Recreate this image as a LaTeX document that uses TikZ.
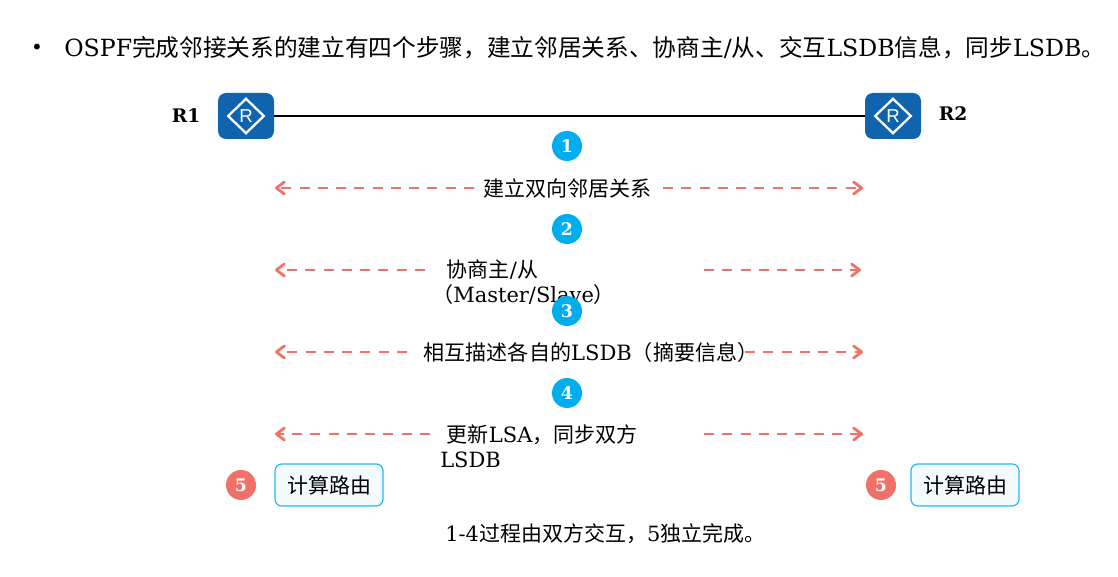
\documentclass[tikz,border=0pt]{standalone}
\usepackage{fontspec}
\usepackage{xcolor}
\usetikzlibrary{arrows.meta,shapes.geometric}
\setmainfont{DejaVu Serif}
\setsansfont{Liberation Sans}
\newfontfamily\cjk{Noto Sans CJK SC}
\definecolor{routerblue}{HTML}{1064AE}
\definecolor{badgeblue}{HTML}{00AEEF}
\definecolor{salmon}{HTML}{F07167}
\definecolor{boxline}{HTML}{29B6F0}
\definecolor{boxfill}{HTML}{F4FBFF}
\tikzset{
    router/.style={fill=routerblue, rounded corners=6pt, minimum width=42pt, minimum height=34.5pt, inner sep=0pt},
    routermark/.style={diamond, draw=white, line width=1.7pt, minimum width=27.5pt, minimum height=26.5pt, inner sep=0pt, text=white, font=\sffamily\fontsize{14}{14}\selectfont},
    badge/.style={circle, fill=badgeblue, minimum size=22.5pt, inner sep=0pt, text=white, font=\bfseries\fontsize{13}{14}\selectfont},
    badgered/.style={badge, fill=salmon},
    calcbox/.style={draw=boxline, fill=boxfill, line width=0.9pt, rounded corners=5pt, minimum width=81pt, minimum height=31.5pt, inner sep=0pt},
    oneway/.style={salmon, line width=2.1pt, dash pattern=on 7.5pt off 6.2pt, -{Straight Barb[round,length=6pt,width=9pt]}},
    label/.style={font=\fontsize{15.75}{18.5}\selectfont, inner sep=0pt}
}
\begin{document}
\begin{tikzpicture}[x=0.75pt, y=-0.75pt]
        \useasboundingbox (0,0) rectangle (1118,577);

        % heading
        \node (bullet) at (37,49) {\fontsize{15}{18}\selectfont •};
        \node (heading) at (64,57) [anchor=base west, inner sep=0pt, font=\fontsize{17.75}{20}\selectfont] {OSPF{\cjk 完成邻接关系的建立有四个步骤，建立邻居关系、协商主}/{\cjk 从、交互}LSDB{\cjk 信息，同步}LSDB{\cjk 。}};

        % routers
        \node (r1) at (246,116) [router] {};
        \node (r2) at (893,116) [router] {};
        \node (r1mark) at (r1) [routermark] {R};
        \node (r2mark) at (r2) [routermark] {R};
        \node (r1name) at (186,116) [font=\bfseries\fontsize{14}{16}\selectfont] {R1};
        \node (r2name) at (953,114) [font=\bfseries\fontsize{14}{16}\selectfont] {R2};
        \draw[black, line width=1.5pt] (r1) -- (r2);

        % step labels
        \node (step1) at (567,188) [label] {\cjk 建立双向邻居关系};
        \node (step2) at (432,282) [label, anchor=west, align=left] {\hspace{11pt}{\cjk 协商主}/{\cjk 从}\\{\cjk （}Master/Slave{\cjk ）}};
        \node (step3) at (591,352) [label, font=\fontsize{15.8}{18.5}\selectfont] {{\cjk 相互描述各自的}LSDB{\cjk （摘要信息）}};
        \node (step4) at (440,446) [label, anchor=west, align=left] {\hspace{5pt}{\cjk 更新}LSA{\cjk ，同步双方}\\LSDB};

        % arrow ends
        \coordinate (a1) at (275,188);
        \coordinate (b1) at (474,188);
        \coordinate (c1) at (663,188);
        \coordinate (d1) at (863,188);
        \coordinate (a2) at (275,270);
        \coordinate (b2) at (425,270);
        \coordinate (c2) at (704,270);
        \coordinate (d2) at (861,270);
        \coordinate (a3) at (275,352);
        \coordinate (b3) at (407,352);
        \coordinate (c3) at (745,352);
        \coordinate (d3) at (863,352);
        \coordinate (a4) at (275,434);
        \coordinate (b4) at (430,434);
        \coordinate (c4) at (704,434);
        \coordinate (d4) at (863,434);

        \draw[oneway] (b1) -- (a1);
        \draw[oneway] (c1) -- (d1);
        \draw[oneway] (b2) -- (a2);
        \draw[oneway] (c2) -- (d2);
        \draw[oneway] (b3) -- (a3);
        \draw[oneway] (c3) -- (d3);
        \draw[oneway] (b4) -- (a4);
        \draw[oneway] (c4) -- (d4);

        % numbered badges
        \node (n1) at (567,146) [badge] {1};
        \node (n2) at (567,229) [badge] {2};
        \node (n3) at (567,311) [badge] {3};
        \node (n4) at (567,393) [badge] {4};
        \node (n5) at (241,485) [badgered] {5};
        \node (n6) at (881,485) [badgered] {5};

        % local work
        \node (calc1) at (329,485) [calcbox, label] {\cjk 计算路由};
        \node (calc2) at (965,485) [calcbox, label] {\cjk 计算路由};

        \node (note) at (445,541) [label, anchor=base west] {1-4{\cjk 过程由双方交互，}5{\cjk 独立完成。}};
    \end{tikzpicture}
\end{document}
